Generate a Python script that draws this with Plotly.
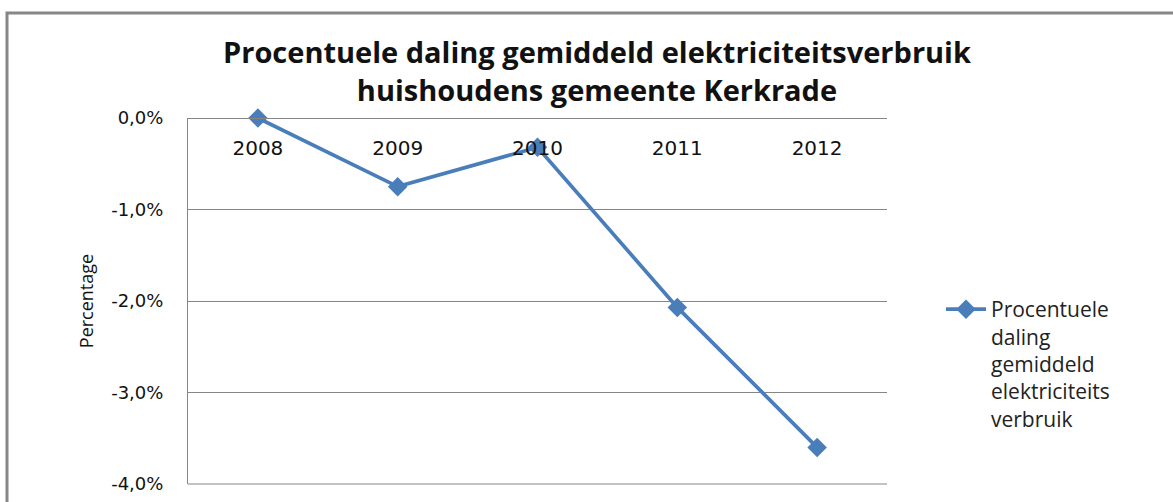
import plotly.graph_objects as go

years = ["2008", "2009", "2010", "2011", "2012"]
values = [0.0, -0.75, -0.32, -2.07, -3.6]
y_ticks = [0, -1, -2, -3, -4]
y_tick_labels = ["0,0%", "-1,0%", "-2,0%", "-3,0%", "-4,0%"]
series_name = "Procentuele<br>daling<br>gemiddeld<br>elektriciteits<br>verbruik"
title_text = "Procentuele daling gemiddeld elektriciteitsverbruik<br>huishoudens gemeente Kerkrade"
y_title = "Percentage"

W, H = 1173, 502
L, R, T, B = 188, 887, 118, 484
pw, ph = R - L, B - T

def px(x):
    return (x - L) / pw

def py(y):
    return (B - y) / ph

blue = "#4A7EBB"
grid = "#868686"

fig = go.Figure()
fig.add_trace(go.Scatter(
    x=years, y=values, mode="lines+markers", name=series_name,
    line=dict(color=blue, width=3.7),
    marker=dict(symbol="diamond", size=15, color=blue),
    cliponaxis=False, showlegend=True,
))

fig.update_layout(
    width=W, height=H,
    margin=dict(l=L, r=W - R, t=T, b=H - B, autoexpand=False),
    paper_bgcolor="white", plot_bgcolor="white",
    showlegend=True,
    legend=dict(
        x=px(941), y=py(289), xanchor="left", yanchor="top",
        font=dict(family="Open Sans", size=21, color="#222222"),
        valign="top", itemwidth=40, bgcolor="rgba(0,0,0,0)",
        tracegroupgap=0,
    ),
    xaxis=dict(
        type="category", range=[-0.5, 4.5],
        anchor="free", position=1, side="bottom",
        showline=True, linecolor=grid, linewidth=1,
        showgrid=False, ticks="", zeroline=False,
        tickfont=dict(family="DejaVu Sans", size=20, color="#111111"),
        ticklabelstandoff=12, automargin=False,
    ),
    yaxis=dict(
        range=[-4, 0], tickvals=y_ticks, ticktext=y_tick_labels,
        showgrid=True, gridcolor=grid, gridwidth=1,
        showline=True, linecolor=grid, linewidth=1,
        zeroline=False, ticks="",
        tickfont=dict(family="DejaVu Sans", size=18, color="#111111"),
        ticklabelstandoff=20, automargin=False,
        title=dict(text=y_title, font=dict(family="Open Sans", size=18, color="#111111"), standoff=12),
    ),
    annotations=[dict(
        text="<b>" + title_text + "</b>", xref="paper", yref="paper",
        x=px(597), y=py(71), xanchor="center", yanchor="middle",
        showarrow=False, font=dict(family="Open Sans", size=29, color="#111111"),
        align="center",
    )],
    shapes=[
        dict(type="rect", xref="paper", yref="paper",
             x0=px(7), x1=px(1200), y0=py(530), y1=py(13),
             line=dict(color="#878787", width=3), fillcolor="rgba(0,0,0,0)", layer="below"),
        dict(type="line", xref="paper", yref="paper",
             x0=0, x1=1, y0=0, y1=0, line=dict(color=grid, width=1)),
    ],
)

fig.write_html("out.html", config={"displayModeBar": False},
               post_script="document.body.style.margin='0px';document.body.style.overflow='hidden';")
